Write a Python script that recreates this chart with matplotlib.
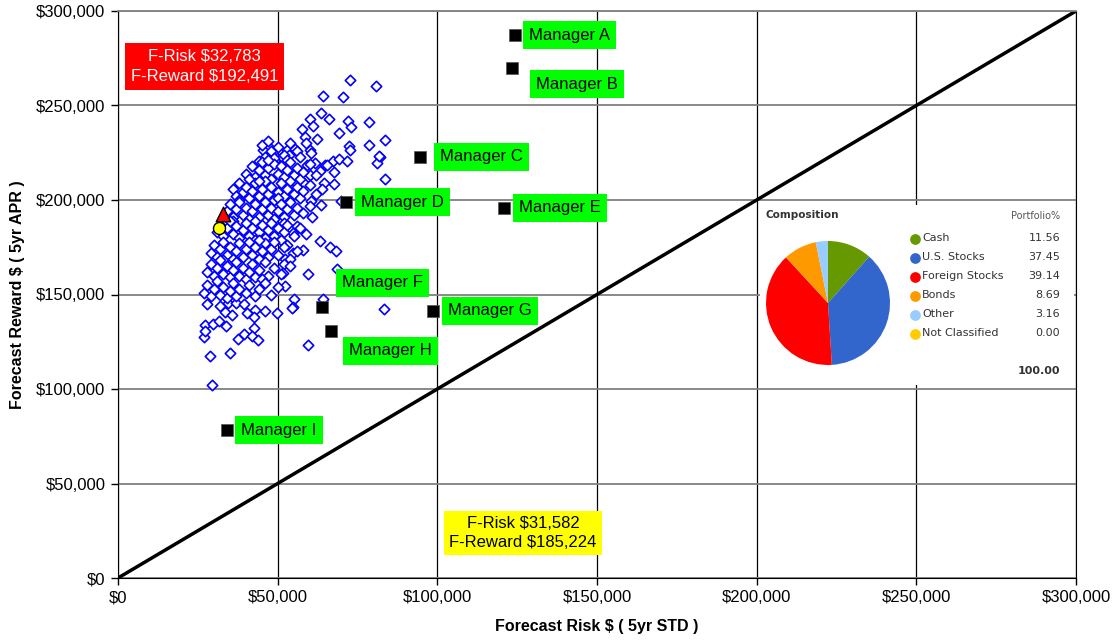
import matplotlib
matplotlib.use("Agg")
import matplotlib.pyplot as plt
from matplotlib.ticker import FuncFormatter

plt.rcParams['font.family'] = ['Liberation Sans', 'DejaVu Sans']

# Portfolio cloud: [Forecast Risk (k$), Forecast Reward (k$)]
cloud = [
    # outer / sparse points
    [72.7, 263.5], [80.8, 260.3], [64.2, 255.0], [70.5, 254.5], [63.6, 246.0],
    [66.1, 242.9], [60.1, 242.9], [61.1, 239.2], [57.6, 237.6], [72.0, 241.8],
    [73.0, 238.6], [78.6, 241.3], [69.2, 235.4], [58.6, 233.3], [62.3, 232.3],
    [83.6, 231.7], [78.6, 229.1], [72.3, 228.6], [72.7, 226.5], [82.1, 222.8],
    [81.1, 219.6], [60.1, 226.5], [60.4, 224.9], [58.9, 230.2], [47.3, 228.0],
    [45.4, 226.5], [52.9, 226.5], [55.4, 227.0], [53.6, 223.8], [49.8, 222.2],
    [44.2, 220.6], [61.7, 219.6], [64.8, 218.5], [67.3, 220.6], [69.2, 221.7],
    [71.7, 220.6], [59.2, 218.5], [65.5, 218.5], [67.6, 214.8], [60.1, 213.2],
    [63.3, 215.3], [64.5, 209.0], [67.6, 208.5], [55.4, 209.5], [58.3, 209.0],
    [60.4, 199.5], [63.6, 197.4], [60.8, 191.0], [69.8, 199.5], [83.6, 211.1],
    [81.7, 223.3], [51.7, 214.8], [51.4, 222.8], [56.1, 186.2], [54.8, 182.5],
    [52.9, 176.2], [57.9, 173.5], [54.8, 172.0], [52.3, 168.8], [52.0, 166.1],
    [51.7, 161.4], [52.3, 154.5], [59.5, 160.8], [63.3, 178.3], [66.4, 175.1],
    [68.3, 173.0], [68.6, 163.5], [55.1, 147.6], [54.8, 143.4], [64.2, 147.6],
    [83.3, 142.3], [59.5, 123.3], [27.9, 145.0], [31.9, 143.9], [34.4, 145.5],
    [37.0, 145.5], [39.5, 145.0], [33.5, 140.7], [35.7, 139.2], [40.4, 140.2],
    [42.9, 141.8], [46.0, 141.3], [49.8, 140.2], [54.5, 142.9], [27.2, 133.9],
    [29.8, 134.4], [31.6, 136.0], [33.8, 133.3], [26.9, 127.5], [27.2, 130.7],
    [42.6, 132.3], [39.5, 129.1], [37.6, 126.5], [42.0, 128.0], [43.8, 125.9],
    [28.8, 117.5], [35.1, 119.0], [29.4, 102.1], [42.6, 138.1],
    # dense core
    [45, 229], [47, 231], [48, 226], [50, 228], [52, 224], [54, 230], [56, 226],
    [46, 223], [49, 222], [53, 221], [57, 223],
    [40, 214], [42, 218], [43, 212], [44, 216], [45, 220], [46, 213], [47, 217],
    [48, 211], [49, 219], [50, 214], [51, 218], [52, 212], [53, 216], [54, 220],
    [55, 213], [56, 217], [57, 211], [58, 215], [60, 219], [62, 213], [41, 211],
    [47, 221],
    [36, 206], [37, 202], [38, 209], [39, 204], [40, 207], [41, 201], [42, 205],
    [43, 209], [44, 202], [45, 206], [46, 210], [47, 203], [48, 207], [49, 200],
    [50, 204], [51, 209], [52, 202], [53, 206], [54, 210], [55, 203], [56, 207],
    [57, 201], [58, 205], [60, 208], [62, 203], [64, 206], [38, 200], [44, 210],
    [50, 201],
    [34, 194], [35, 198], [36, 191], [37, 195], [38, 199], [39, 192], [40, 196],
    [41, 190], [42, 194], [43, 198], [44, 191], [45, 195], [46, 199], [47, 192],
    [48, 196], [49, 190], [50, 194], [51, 198], [52, 191], [53, 195], [54, 199],
    [55, 192], [56, 196], [58, 193], [60, 197], [36, 189], [43, 189], [52, 188],
    [31, 183], [32, 187], [33, 181], [34, 185], [35, 189], [36, 182], [37, 186],
    [38, 180], [39, 184], [40, 188], [41, 181], [42, 185], [43, 179], [44, 183],
    [45, 187], [46, 180], [47, 184], [48, 188], [49, 181], [50, 185], [51, 179],
    [52, 183], [53, 187], [55, 181], [57, 185], [59, 182],
    [29, 172], [30, 176], [31, 170], [32, 174], [33, 178], [34, 171], [35, 175],
    [36, 169], [37, 173], [38, 177], [39, 170], [40, 174], [41, 178], [42, 171],
    [43, 175], [44, 169], [45, 173], [46, 177], [47, 170], [48, 174], [49, 178],
    [50, 171], [52, 175], [54, 169], [56, 173], [33, 168], [44, 179],
    [28, 162], [29, 166], [30, 160], [31, 164], [32, 168], [33, 161], [34, 165],
    [35, 159], [36, 163], [37, 167], [38, 160], [39, 164], [40, 158], [41, 162],
    [42, 166], [43, 159], [44, 163], [46, 167], [47, 160], [49, 164], [51, 161],
    [54, 165], [45, 158],
    [27, 151], [28, 155], [29, 149], [30, 153], [31, 157], [32, 150], [33, 154],
    [34, 148], [35, 152], [36, 156], [37, 149], [38, 153], [40, 151], [41, 155],
    [43, 149], [44, 153], [46, 156], [48, 150], [50, 154],
]

managers = ['Manager A', 'Manager B', 'Manager C', 'Manager D', 'Manager E',
            'Manager F', 'Manager G', 'Manager H', 'Manager I']
mgr_risk = [124.3, 123.4, 94.6, 71.4, 120.9, 63.9, 98.7, 66.7, 34.1]
mgr_reward = [287.3, 269.8, 222.8, 198.9, 195.8, 143.4, 141.3, 130.7, 78.3]
# label offsets in pixels (dx, dy)
mgr_offsets = [(14, 0), (24, -16), (20, 0), (15, 0), (15, 0),
               (20, 24), (15, 0), (18, -20), (14, 0)]

f_risk_red, f_reward_red = 32.783, 192.491
f_risk_yel, f_reward_yel = 31.582, 185.224

comp_labels = ['Cash', 'U.S. Stocks', 'Foreign Stocks', 'Bonds', 'Other', 'Not Classified']
comp_values = [11.56, 37.45, 39.14, 8.69, 3.16, 0.00]
comp_colors = ['#669900', '#3366CC', '#FF0000', '#FF9900', '#99CCFF', '#FFCC00']

fig = plt.figure(figsize=(11.15, 6.44), dpi=100)
ax = fig.add_axes([118 / 1115, 66 / 644, 958 / 1115, 567 / 644])

ax.set_xlim(0, 300)
ax.set_ylim(0, 300)
ticks = [0, 50, 100, 150, 200, 250, 300]
ax.set_xticks(ticks)
ax.set_yticks(ticks)
money = FuncFormatter(lambda v, p: '${:,.0f}'.format(v * 1000))
ax.xaxis.set_major_formatter(money)
ax.yaxis.set_major_formatter(money)
ax.tick_params(labelsize=12, length=5, width=1, pad=4)
ax.xaxis.grid(True, color='black', linewidth=0.9)
ax.yaxis.grid(True, color='#808080', linewidth=1.3)
ax.set_axisbelow(True)
for s in ['left', 'bottom', 'right']:
    ax.spines[s].set_color('black')
ax.spines['top'].set_color('#808080')
ax.spines['top'].set_linewidth(1.3)

ax.plot([0, 300], [0, 300], color='black', linewidth=2.5, zorder=2)

ax.scatter([p[0] for p in cloud], [p[1] for p in cloud], marker='D', s=28,
           facecolors='white', edgecolors='#0000FF', linewidths=1.2, zorder=3)

ax.scatter(mgr_risk, mgr_reward, marker='s', s=85, color='black',
           edgecolors='#555555', linewidths=0.5, zorder=5)
for name, x, y, off in zip(managers, mgr_risk, mgr_reward, mgr_offsets):
    ax.annotate(name, (x, y), xytext=off, textcoords='offset pixels',
                ha='left', va='center', fontsize=12, zorder=6,
                bbox=dict(boxstyle='square,pad=0.38', facecolor='#00FF00', edgecolor='none'))

ax.scatter([f_risk_red], [f_reward_red], marker='^', s=110, color='#FF0000',
           edgecolors='black', linewidths=1, zorder=7)
ax.scatter([f_risk_yel], [f_reward_yel], marker='o', s=75, color='#FFFF00',
           edgecolors='black', linewidths=1, zorder=7)

ax.text(27.2, 270.5, 'F-Risk ${:,.0f}\nF-Reward ${:,.0f}'.format(f_risk_red * 1000, f_reward_red * 1000),
        ha='center', va='center', fontsize=12, color='white', linespacing=1.45, zorder=6,
        bbox=dict(boxstyle='square,pad=0.35', facecolor='#FF0000', edgecolor='none'))
ax.text(126.8, 23.8, 'F-Risk ${:,.0f}\nF-Reward ${:,.0f}'.format(f_risk_yel * 1000, f_reward_yel * 1000),
        ha='center', va='center', fontsize=12, color='black', linespacing=1.4, zorder=6,
        bbox=dict(boxstyle='square,pad=0.3', facecolor='#FFFF00', edgecolor='none'))

ax.set_xlabel('Forecast Risk $ ( 5yr STD )', fontsize=11.5, fontweight='bold', labelpad=10)
ax.set_ylabel('Forecast Reward $ ( 5yr APR )', fontsize=11.5, fontweight='bold', labelpad=8)

# Composition inset
box = fig.add_axes([760 / 1115, 259 / 644, 314 / 1115, 180 / 644])
box.set_xlim(0, 314)
box.set_ylim(180, 0)
box.axis('off')
box.add_patch(plt.Rectangle((0, 0), 314, 180, facecolor='white', edgecolor='none'))
box.text(6, 10, 'Composition', fontsize=7.5, fontweight='bold', color='#333333',
         family=['DejaVu Sans'], va='center')
box.text(300, 11, 'Portfolio%', fontsize=7, color='#555555', family=['DejaVu Sans'],
         ha='right', va='center')
for i, (lab, val, col) in enumerate(zip(comp_labels, comp_values, comp_colors)):
    y = 33 + i * 19
    box.scatter([155], [y + 1], s=45, color=col)
    box.text(162, y, lab, fontsize=8, color='#333333', family=['DejaVu Sans'], va='center')
    box.text(300, y, '{:.2f}'.format(val), fontsize=8, color='#333333',
             family=['DejaVu Sans'], ha='right', va='center')
box.text(300, 166, '{:.2f}'.format(sum(comp_values)), fontsize=8, fontweight='bold',
         color='#333333', family=['DejaVu Sans'], ha='right', va='center')

pie_ax = fig.add_axes([766 / 1115, 279 / 644, 124 / 1115, 124 / 644])
pie_ax.pie(comp_values, colors=comp_colors, startangle=90, counterclock=False,
           wedgeprops=dict(linewidth=0))
pie_ax.set_aspect('auto')
pie_ax.set_xlim(-1, 1)
pie_ax.set_ylim(-1, 1)

fig.savefig('out.png', dpi=100)
